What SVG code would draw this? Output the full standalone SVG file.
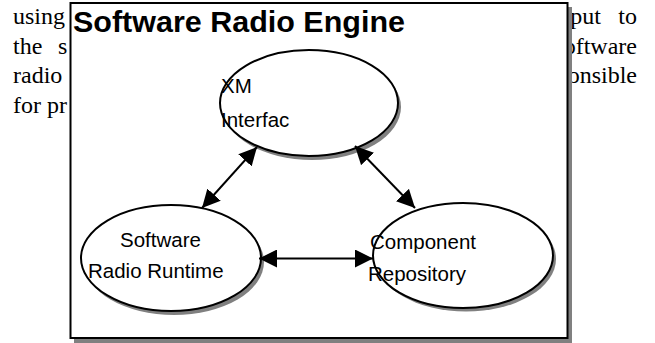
<svg xmlns="http://www.w3.org/2000/svg" width="655" height="343" viewBox="0 0 655 343">
  <style>
    .para { font-family: "Liberation Serif", "Times New Roman", serif; font-size: 24px; fill: #000; }
    .title { font-family: "Liberation Sans", Arial, sans-serif; font-size: 29px; font-weight: bold; fill: #000; }
    .lbl { font-family: "Liberation Sans", Arial, sans-serif; font-size: 20.5px; fill: #000; }
    .shadow { fill: #808080; stroke: none; }
    .node { fill: #fff; stroke: #000; stroke-width: 2; }
    .conn { stroke: #000; stroke-width: 2; fill: none; marker-start: url(#arrow); marker-end: url(#arrow); }
  </style>
  <defs>
    <marker id="arrow" markerUnits="userSpaceOnUse" markerWidth="18" markerHeight="18" refX="16" refY="8" orient="auto-start-reverse" viewBox="0 0 16 16">
      <path d="M0,0 L16,8 L0,16 z" fill="#000"/>
    </marker>
  </defs>
  <rect width="655" height="343" fill="#fff"/>

  <g id="paragraph">
    <text class="para" x="13" y="24">using</text>
    <text class="para" x="13" y="53.5">the</text>
    <text class="para" x="58" y="53.5">s</text>
    <text class="para" x="13" y="83">radio</text>
    <text class="para" x="13" y="112.5">for pr</text>
    <text class="para" x="601" y="24" text-anchor="end">put</text>
    <text class="para" x="637" y="24" text-anchor="end">to</text>
    <text class="para" x="637" y="53.5" text-anchor="end">oftware</text>
    <text class="para" x="637" y="83" text-anchor="end">onsible</text>
  </g>

  <g id="engine">
    <rect class="shadow" x="74" y="7" width="498" height="336"/>
    <rect x="70.5" y="3" width="497" height="335" fill="#fff" stroke="#000" stroke-width="2"/>
    <text class="title" x="73" y="32" textLength="332" lengthAdjust="spacingAndGlyphs">Software Radio Engine</text>
  </g>

  <g id="xm-interface">
    <ellipse class="shadow" cx="312" cy="107" rx="89" ry="53"/>
    <ellipse class="node" cx="309" cy="103" rx="89" ry="53"/>
    <text class="lbl" x="221" y="93">XM</text>
    <text class="lbl" x="221" y="127">Interfac</text>
  </g>

  <g id="software-radio-runtime">
    <ellipse class="shadow" cx="174" cy="262" rx="90" ry="53"/>
    <ellipse class="node" cx="171" cy="258" rx="90" ry="53"/>
    <text class="lbl" x="120" y="247">Software</text>
    <text class="lbl" x="88" y="278">Radio Runtime</text>
  </g>

  <g id="component-repository">
    <ellipse class="shadow" cx="466" cy="259" rx="90" ry="52.5"/>
    <ellipse class="node" cx="463" cy="255.5" rx="90" ry="52.5"/>
    <text class="lbl" x="370" y="249">Component</text>
    <text class="lbl" x="368" y="281">Repository</text>
  </g>

  <g id="connectors">
    <line class="conn" x1="202" y1="208" x2="257" y2="147"/>
    <line class="conn" x1="355" y1="146" x2="415" y2="208"/>
    <line class="conn" x1="259" y1="258.5" x2="373" y2="258.5"/>
  </g>
</svg>
